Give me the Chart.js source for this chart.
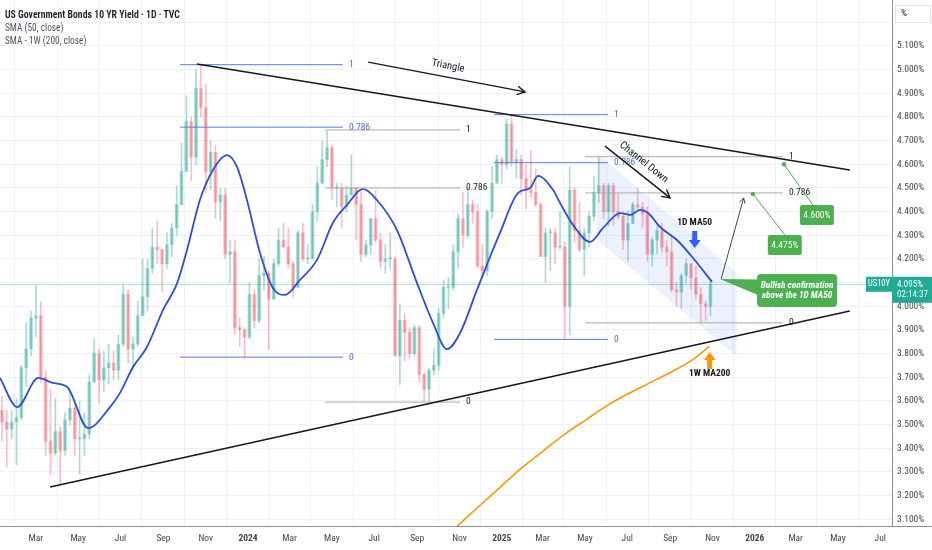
<!DOCTYPE html>
<html><head><meta charset="utf-8">
<script src="https://cdn.jsdelivr.net/npm/chart.js@4.4.1/dist/chart.umd.min.js"></script>
<style>
html,body{margin:0;padding:0;background:#fff;}
#wrap{position:relative;width:932px;height:550px;overflow:hidden;background:#fff;}
#c{position:absolute;left:0;top:0;}
#legend{position:absolute;left:5px;top:8px;color:#131722;white-space:nowrap;transform-origin:0 0;}
#legend div{line-height:13px;}
.l1{font-size:11px;font-weight:600;}
.l2{font-size:10.5px;color:#50535e;}
</style></head><body>
<div id="wrap"><canvas id="c" width="932" height="550"></canvas>
<div id="legend"><div class="l1"><span id="ttl">US Government Bonds 10 YR Yield · 1D · TVC</span></div><div class="l2">SMA (50, close)</div><div class="l2">SMA - 1W (200, close)</div></div></div>
<script>
// ---------- DATA (weekly candles, weeks starting 2023-01-09) ----------
const weekStart = '2023-01-09';
const weekOpen = [
3.56,3.51,3.48,3.51,3.53,3.74,3.82,3.95,3.96,3.70,3.43,3.38,3.47,3.39,3.52,3.57,3.44,3.44,3.46,3.68,3.80,3.69,3.74,3.76,3.73,3.84,4.05,3.82,3.84,3.96,4.04,4.16,4.25,4.24,4.18,4.26,4.33,4.43,4.57,4.78,4.63,4.92,4.84,4.57,4.65,4.44,4.47,4.22,4.23,3.91,3.90,
3.87,4.05,3.94,4.13,4.14,4.03,4.18,4.28,4.25,4.18,4.08,4.31,4.20,4.20,4.40,4.52,4.62,4.67,4.50,4.50,4.42,4.47,4.50,4.43,4.22,4.26,4.37,4.28,4.19,4.20,4.20,3.79,3.94,3.89,3.80,3.91,3.71,3.65,3.73,3.75,3.97,4.08,4.08,4.23,4.37,4.30,4.43,4.40,4.17,4.15,4.40,4.52,4.62,
4.60,4.77,4.61,4.62,4.54,4.49,4.48,4.43,4.21,4.31,4.31,4.25,4.25,4.00,4.49,4.32,4.24,4.31,4.38,4.48,4.51,4.40,4.51,4.40,4.38,4.28,4.35,4.43,4.42,4.39,4.22,4.28,4.32,4.25,4.23,4.07,4.06,4.13,4.18,4.12,4.05,4.01,4.00];
const weekHigh = [
3.62,3.56,3.56,3.61,3.75,3.93,3.98,4.09,4.02,3.73,3.65,3.61,3.49,3.55,3.64,3.58,3.60,3.55,3.71,3.86,3.82,3.81,3.84,3.81,3.88,4.09,4.07,3.87,4.02,4.20,4.20,4.33,4.36,4.24,4.31,4.35,4.51,4.69,4.89,4.80,5.00,5.02,4.94,4.70,4.68,4.50,4.50,4.28,4.28,3.95,3.91,
4.10,4.07,4.20,4.21,4.15,4.20,4.33,4.35,4.33,4.19,4.32,4.35,4.26,4.43,4.59,4.70,4.74,4.68,4.52,4.52,4.51,4.64,4.50,4.49,4.28,4.37,4.49,4.31,4.26,4.31,4.21,4.01,3.97,3.91,3.92,3.92,3.72,3.74,3.82,3.99,4.11,4.12,4.26,4.39,4.48,4.50,4.45,4.43,4.26,4.41,4.59,4.64,4.63,
4.79,4.81,4.66,4.64,4.60,4.66,4.58,4.44,4.33,4.33,4.33,4.40,4.27,4.59,4.50,4.44,4.33,4.40,4.55,4.63,4.52,4.52,4.52,4.48,4.40,4.40,4.44,4.50,4.44,4.42,4.29,4.34,4.35,4.28,4.30,4.10,4.14,4.20,4.18,4.17,4.08,4.02,4.11];
const weekLow = [
3.43,3.32,3.44,3.33,3.52,3.66,3.79,3.87,3.68,3.37,3.29,3.37,3.25,3.37,3.50,3.37,3.29,3.37,3.44,3.68,3.59,3.64,3.67,3.69,3.69,3.83,3.76,3.73,3.83,3.96,3.98,4.14,4.18,4.06,4.16,4.21,4.30,4.43,4.57,4.53,4.60,4.80,4.48,4.49,4.37,4.36,4.20,4.10,3.88,3.83,3.78,
3.86,3.91,3.93,4.07,3.82,4.03,4.17,4.25,4.16,4.04,4.08,4.19,4.18,4.20,4.36,4.52,4.59,4.45,4.42,4.33,4.40,4.47,4.28,4.19,4.21,4.22,4.27,4.16,4.14,4.16,3.79,3.67,3.77,3.78,3.79,3.68,3.60,3.60,3.71,3.73,3.95,3.99,4.07,4.16,4.25,4.29,4.35,4.16,4.12,4.13,4.37,4.52,4.52,
4.58,4.59,4.54,4.47,4.41,4.46,4.42,4.21,4.10,4.15,4.18,4.24,3.86,3.88,4.27,4.23,4.13,4.25,4.36,4.44,4.37,4.34,4.34,4.37,4.24,4.19,4.35,4.40,4.33,4.19,4.17,4.22,4.23,4.17,4.06,4.00,3.99,4.10,4.07,4.03,3.93,3.94,3.96];
const weekClose = [
3.51,3.48,3.51,3.53,3.74,3.82,3.95,3.96,3.70,3.43,3.38,3.47,3.39,3.52,3.57,3.44,3.44,3.46,3.68,3.80,3.69,3.74,3.76,3.73,3.84,4.05,3.82,3.84,3.96,4.04,4.16,4.25,4.24,4.18,4.26,4.33,4.43,4.57,4.78,4.63,4.92,4.84,4.57,4.65,4.44,4.47,4.22,4.23,3.91,3.90,3.87,
4.05,3.94,4.13,4.14,4.03,4.18,4.28,4.25,4.18,4.08,4.31,4.20,4.20,4.40,4.52,4.62,4.67,4.50,4.50,4.42,4.47,4.50,4.43,4.22,4.26,4.37,4.28,4.19,4.20,4.20,3.79,3.94,3.89,3.80,3.91,3.71,3.65,3.73,3.75,3.97,4.08,4.08,4.23,4.37,4.30,4.43,4.40,4.17,4.15,4.40,4.52,4.62,4.60,
4.77,4.61,4.62,4.54,4.49,4.48,4.43,4.21,4.31,4.31,4.25,4.25,4.00,4.49,4.32,4.24,4.31,4.38,4.48,4.51,4.40,4.51,4.40,4.38,4.28,4.35,4.43,4.42,4.39,4.22,4.28,4.32,4.25,4.23,4.07,4.06,4.13,4.18,4.12,4.05,4.01,4.00,4.095];

// SMA 50 (daily) traced: x in months since 2023-01-01
const sma50X = [0.24,1.05,2.05,2.75,3.42,4.41,5.45,5.92,6.54,7.20,7.96,8.63,9.10,9.71,10.33,10.99,11.47,11.94,12.56,13.17,13.74,14.45,15.26,16.01,16.68,17.44,18.10,19.05,20.00,20.76,21.42,22.04,22.84,23.93,24.79,25.36,25.73,26.45,26.78,27.40,28.20,28.82,29.63,30.10,30.57,30.95,31.52,32.32,33.08,33.98];
const sma50Y = [3.697,3.574,3.697,3.676,3.659,3.485,3.574,3.633,3.743,3.828,3.984,4.098,4.238,4.449,4.576,4.639,4.589,4.449,4.225,4.077,4.048,4.111,4.196,4.352,4.428,4.496,4.449,4.322,4.098,3.929,3.819,3.887,4.069,4.310,4.479,4.500,4.551,4.491,4.436,4.343,4.272,4.331,4.394,4.386,4.407,4.394,4.335,4.280,4.204,4.103];
// SMA 200 (weekly)
const sma200X = [21.9,23,24,25,26,27,28,29,30,31,32,33,33.85];
const sma200Y = [3.07,3.16,3.24,3.32,3.39,3.46,3.52,3.58,3.63,3.675,3.72,3.77,3.83];

// Ticks
const xTickDates = ['2023-03','2023-05','2023-07','2023-09','2023-11','2024-01','2024-03','2024-05','2024-07','2024-09','2024-11','2025-01','2025-03','2025-05','2025-07','2025-09','2025-11','2026-01','2026-03','2026-05','2026-07'];
const xTickLabels = ['Mar','May','Jul','Sep','Nov','2024','Mar','May','Jul','Sep','Nov','2025','Mar','May','Jul','Sep','Nov','2026','Mar','May','Jul'];
const yTickValues = [3.1,3.2,3.3,3.4,3.5,3.6,3.7,3.8,3.9,4.0,4.1,4.2,4.3,4.4,4.5,4.6,4.7,4.8,4.9,5.0,5.1,5.2];

// Drawings (data coordinates: x = months since 2023-01-01, y = yield %)
const triUpperX = [9.57,40.51], triUpperY = [5.024,4.576];
const triLowerX = [2.61,40.51], triLowerY = [3.236,3.980];
const fibStart = [8.77,15.64,23.65,27.96];
const fibEnd = [16.49,22.04,29.05,37.34];
const fibLevels = [[5.021,4.757,3.785],[4.745,4.500,3.595],[4.810,4.607,3.860],[4.632,4.479,3.930]];
const fibLabels = ['1','0.786','0'];
const fibBlue = [true,false,true,false];
const channelX = [28.53,35.15,35.15,28.53], channelY = [4.648,4.141,3.790,4.280];
const lastPrice = 4.095;
const targets = [4.475,4.600];
const targetX = [35.92,37.39];
const targetBoxX = [37.43,38.95], targetBoxY = [4.259,4.386];

// ---------- helpers ----------
const DAY = 86400000, MD = 30.4375, T0 = Date.UTC(2023,0,1);
const toX = (y,m,d) => (Date.UTC(y,m,d)-T0)/DAY/MD;
const [wy,wm,wd] = weekStart.split('-').map(Number);
const weekX = weekClose.map((_,i)=>toX(wy,wm-1,wd+7*i+2));
const xTickVals = xTickDates.map(s=>{const [y,m]=s.split('-').map(Number);return toX(y,m-1,1);});

const mc=document.createElement('canvas').getContext('2d');
function wOf(fam){mc.font='40px '+fam;return mc.measureText('US Government Bonds 5.100% Channel Down').width;}
const baseW=wOf('Roboto');
let COND=null;
for(const n of ['Liberation Sans Narrow','Roboto Condensed','DejaVu Sans Condensed']){
  const w=wOf('"'+n+'", Roboto');
  if(w/baseW<0.9){COND=n;break;}
}
const FAM = COND ? '"'+COND+'", Roboto, sans-serif' : 'Roboto, "Noto Sans", sans-serif';
const SX = COND ? 1 : 0.82;
const lg = document.getElementById('legend');
lg.style.fontFamily = FAM;
const tw = document.getElementById('ttl').getBoundingClientRect().width;
lg.style.transform = 'scaleX('+(175/tw).toFixed(3)+')';

const UP='rgba(8,153,129,0.34)', DN='rgba(242,54,69,0.32)';
const candleCol = weekClose.map((c,i)=> c>=weekOpen[i]?UP:DN);

function seg(xs,ys,color,w){
  return {type:'line',data:xs.map((x,i)=>({x,y:ys[i]})),borderColor:color,borderWidth:w,pointRadius:0,fill:false,tension:0,order:1};
}
const fibSets=[];
fibLevels.forEach((lv,k)=>lv.forEach(v=>fibSets.push(seg([fibStart[k],fibEnd[k]],[v,v],fibBlue[k]?'#5b7be0':'#a9a9a9',1))));

function txt(ctx,s,px,py,o){
  o=o||{};
  ctx.save(); ctx.translate(px,py); if(o.rot) ctx.rotate(o.rot); ctx.scale(SX,1);
  ctx.font=(o.style||'normal')+' '+(o.weight||'normal')+' '+(o.size||9)+'px '+FAM;
  ctx.fillStyle=o.color||'#131722'; ctx.textAlign=o.align||'left'; ctx.textBaseline='middle';
  ctx.fillText(s,0,0); ctx.restore();
}
function rrect(ctx,x,y,w,h,r){ctx.beginPath();ctx.moveTo(x+r,y);ctx.lineTo(x+w-r,y);ctx.quadraticCurveTo(x+w,y,x+w,y+r);ctx.lineTo(x+w,y+h-r);ctx.quadraticCurveTo(x+w,y+h,x+w-r,y+h);ctx.lineTo(x+r,y+h);ctx.quadraticCurveTo(x,y+h,x,y+h-r);ctx.lineTo(x,y+r);ctx.quadraticCurveTo(x,y,x+r,y);ctx.closePath();}
function arrowLine(ctx,x1,y1,x2,y2,color,w,len){
  ctx.strokeStyle=color;ctx.lineWidth=w;ctx.beginPath();ctx.moveTo(x1,y1);ctx.lineTo(x2,y2);ctx.stroke();
  const a=Math.atan2(y2-y1,x2-x1);
  ctx.beginPath();ctx.moveTo(x2-len*Math.cos(a-0.5),y2-len*Math.sin(a-0.5));ctx.lineTo(x2,y2);ctx.lineTo(x2-len*Math.cos(a+0.5),y2-len*Math.sin(a+0.5));ctx.stroke();
}
function blockArrow(ctx,x,tip,dir,color){
  ctx.fillStyle=color;ctx.beginPath();
  ctx.moveTo(x,tip);ctx.lineTo(x-6,tip-8*dir);ctx.lineTo(x-2.5,tip-8*dir);ctx.lineTo(x-2.5,tip-17*dir);
  ctx.lineTo(x+2.5,tip-17*dir);ctx.lineTo(x+2.5,tip-8*dir);ctx.lineTo(x+6,tip-8*dir);ctx.closePath();ctx.fill();
}

const annot = {
  id:'annot',
  beforeDatasetsDraw(chart){
    const {ctx,chartArea:a,scales:{x,y}}=chart;
    ctx.save(); ctx.beginPath(); ctx.rect(a.left,a.top,a.right-a.left,a.bottom-a.top); ctx.clip();
    const py=Math.round(y.getPixelForValue(lastPrice))+0.5;
    ctx.strokeStyle='rgba(34,171,148,0.35)';ctx.lineWidth=1;ctx.beginPath();ctx.moveTo(a.left,py);ctx.lineTo(a.right,py);ctx.stroke();
    ctx.fillStyle='rgba(41,98,255,0.09)';ctx.beginPath();
    channelX.forEach((cx,i)=>{const X=x.getPixelForValue(cx),Y=y.getPixelForValue(channelY[i]); i?ctx.lineTo(X,Y):ctx.moveTo(X,Y);});
    ctx.closePath();ctx.fill();
    ctx.restore();
  },
  afterDatasetsDraw(chart){
    const {ctx,chartArea:a,scales:{x,y}}=chart;
    const X=v=>x.getPixelForValue(v), Y=v=>y.getPixelForValue(v);
    ctx.save(); ctx.beginPath(); ctx.rect(a.left,a.top,a.right-a.left,a.bottom-a.top); ctx.clip();
    fibLevels.forEach((lv,k)=>lv.forEach((v,j)=>txt(ctx,fibLabels[j],X(fibEnd[k])+6,Y(v),{size:9.5,color:fibBlue[k]?'#4a6fdc':'#222'})));
    let x1=X(17.68),y1=Y(5.032),x2=X(25.12),y2=Y(4.906);
    arrowLine(ctx,x1,y1,x2,y2,'#131722',1.4,9);
    txt(ctx,'Triangle',X(21.47),Y(5.015),{size:10.5,align:'center',rot:Math.atan2(y2-y1,x2-x1)});
    x1=X(28.91);y1=Y(4.677);x2=X(31.99);y2=Y(4.458);
    arrowLine(ctx,x1,y1,x2,y2,'#131722',1.4,9);
    txt(ctx,'Channel Down',X(30.74),Y(4.608),{size:10.5,align:'center',rot:Math.atan2(y2-y1,x2-x1)});
    txt(ctx,'1D MA50',X(33.16),Y(4.352),{size:9.5,weight:'bold',align:'center'});
    blockArrow(ctx,X(33.16),Y(4.246),1,'#2962ff');
    blockArrow(ctx,X(33.87),Y(3.807),-1,'#ff9800');
    txt(ctx,'1W MA200',X(33.87),Y(3.714),{size:9.5,weight:'bold',align:'center'});
    arrowLine(ctx,X(34.41),Y(4.115),X(35.48),Y(4.458),'#434651',1,6);
    targets.forEach((t,i)=>{
      const dx=X(targetX[i]),dy=Y(t),bx=X(targetBoxX[i]),by=Y(targetBoxY[i]);
      ctx.strokeStyle='#4caf50';ctx.lineWidth=1;ctx.beginPath();ctx.moveTo(dx,dy);ctx.lineTo(bx-(i?4:0),by-10);ctx.stroke();
      ctx.fillStyle='#4caf50';ctx.beginPath();ctx.arc(dx,dy,2.2,0,Math.PI*2);ctx.fill();
      rrect(ctx,bx-17,by-10,34,20,2.5);ctx.fill();
      txt(ctx,t.toFixed(3)+'%',bx,by+0.5,{size:9.5,color:'#fff',align:'center'});
    });
    const cx=X(38.01),cy=Y(4.0666),ax=X(34.36),ay=Y(4.115);
    ctx.fillStyle='#4caf50';
    ctx.beginPath();ctx.moveTo(ax,ay);ctx.lineTo(cx-38,cy-11);ctx.lineTo(cx-38,cy+5);ctx.closePath();ctx.fill();
    rrect(ctx,cx-40,cy-16.5,80,33,4);ctx.fill();
    txt(ctx,'Bullish confirmation',cx,cy-4.5,{size:9.3,weight:'bold',style:'italic',color:'#fff',align:'center'});
    txt(ctx,'above the 1D MA50',cx,cy+5.5,{size:9.3,weight:'bold',style:'italic',color:'#fff',align:'center'});
    ctx.restore();
  },
  afterDraw(chart){
    const {ctx,chartArea:a,scales:{y}}=chart;
    const py=y.getPixelForValue(lastPrice);
    ctx.save();
    ctx.strokeStyle='#8a8e97';ctx.lineWidth=1;ctx.beginPath();ctx.moveTo(a.right,a.bottom+0.5);ctx.lineTo(932,a.bottom+0.5);ctx.stroke();
    ctx.fillStyle='#22ab94';
    ctx.fillRect(a.right-26,py-7,26,15);
    txt(ctx,'US10Y',a.right-13,py+0.5,{size:8.5,color:'#fff',align:'center'});
    ctx.fillRect(a.right,py-7,40,26);
    txt(ctx,'4.095%',a.right+5,py+0.5,{size:9,color:'#fff'});
    txt(ctx,'02:14:37',a.right+5,py+11,{size:9,color:'#e8fff9'});
    ctx.fillStyle='#fff';ctx.fillRect(a.right+3,5,36,18);
    ctx.strokeStyle='#e0e3eb';ctx.strokeRect(a.right+3.5,5.5,35,17);
    txt(ctx,'%',a.right+9,14,{size:9.5,color:'#131722'});
    ctx.restore();
  }
};

const TF = COND?9.5:8.5;
Chart.defaults.font.family = FAM;
new Chart(document.getElementById('c'),{
  type:'bar',
  data:{datasets:[
    {type:'bar',data:weekX.map((x,i)=>({x,y:[weekLow[i],weekHigh[i]]})),backgroundColor:candleCol,barThickness:1,grouped:false,order:10},
    {type:'bar',data:weekX.map((x,i)=>({x,y:[weekOpen[i],weekClose[i]]})),backgroundColor:candleCol,barThickness:3,minBarLength:1,grouped:false,order:9},
    {type:'line',data:sma50X.map((x,i)=>({x,y:sma50Y[i]})),borderColor:'#2c4fd9',borderWidth:1.8,pointRadius:0,fill:false,cubicInterpolationMode:'monotone',order:5},
    {type:'line',data:sma200X.map((x,i)=>({x,y:sma200Y[i]})),borderColor:'#ff9800',borderWidth:1.6,pointRadius:0,fill:false,cubicInterpolationMode:'monotone',order:5},
    seg(triUpperX,triUpperY,'#131722',1.5),
    seg(triLowerX,triLowerY,'#131722',1.5),
    ...fibSets
  ]},
  options:{
    responsive:false,animation:false,devicePixelRatio:1,
    layout:{padding:0},
    plugins:{legend:{display:false},tooltip:{enabled:false}},
    events:[],
    scales:{
      x:{type:'linear',min:0.237,max:42.51,offset:false,
        afterFit(s){s.height=24;s.paddingLeft=0;s.paddingRight=0;},
        afterBuildTicks(s){s.ticks=xTickVals.map(v=>({value:v}));},
        grid:{color:'#eef1f5',drawTicks:false},
        border:{display:true,color:'#8a8e97'},
        ticks:{autoSkip:false,maxRotation:0,padding:7,color:'#434651',
          callback:(v,i)=>xTickLabels[i],
          font:(c)=>({family:FAM,size:TF,weight:(/^\d{4}$/.test(xTickLabels[c.index]||''))?'bold':'normal'})}
      },
      y:{type:'linear',position:'right',min:3.0713,max:5.2944,
        afterFit(s){s.width=40;s.paddingTop=0;s.paddingBottom=0;},
        afterBuildTicks(s){s.ticks=yTickValues.map(v=>({value:v}));},
        grid:{color:'#eef1f5',drawTicks:false},
        border:{display:true,color:'#8a8e97'},
        ticks:{padding:5,color:'#434651',font:{family:FAM,size:TF},
          callback:(v)=> v>5.15?'':v.toFixed(3)+'%'}
      }
    }
  },
  plugins:[annot]
});
</script></body></html>
